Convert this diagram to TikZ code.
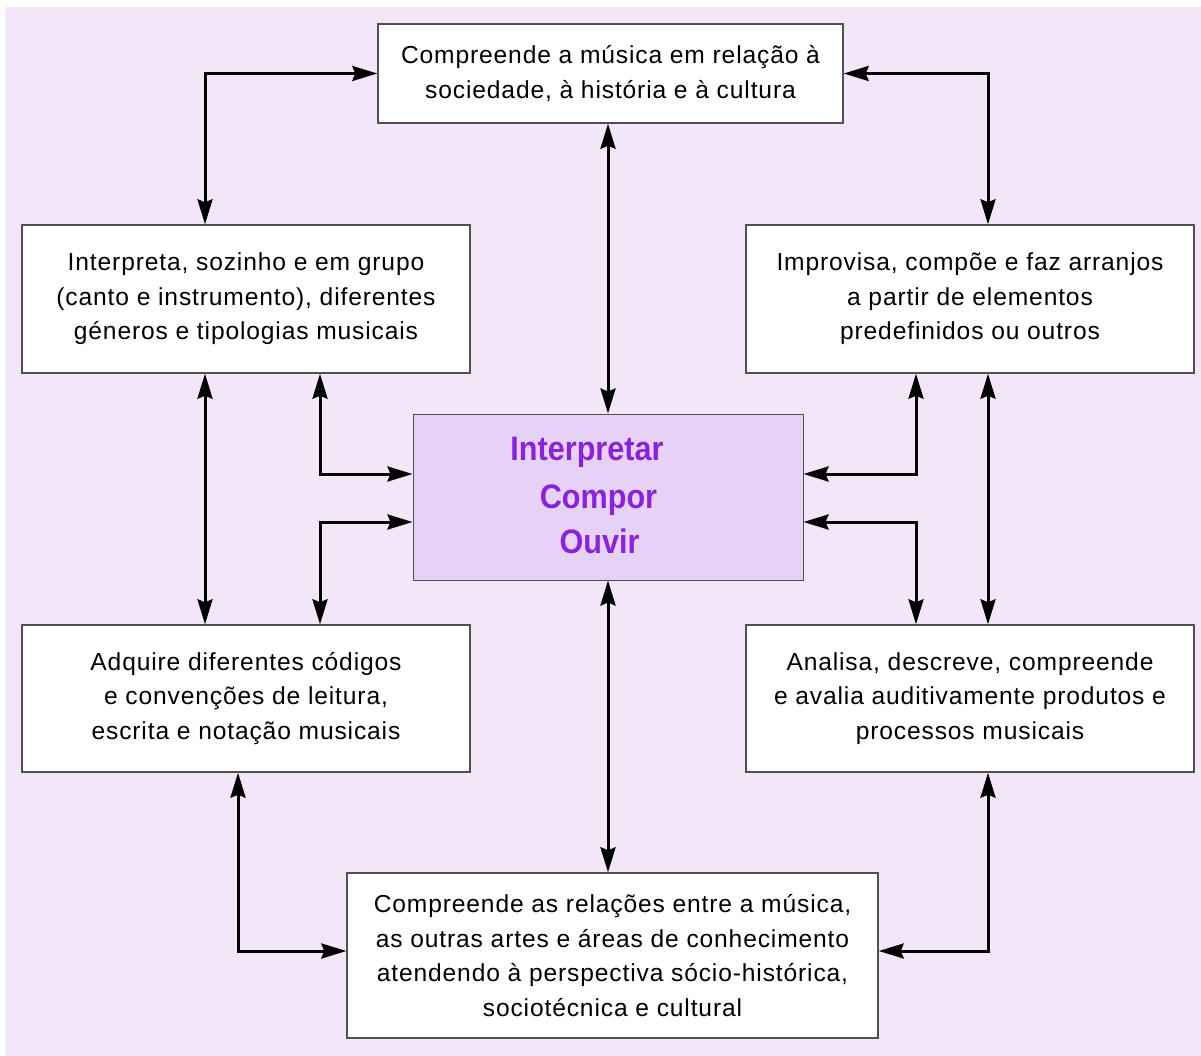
\documentclass[tikz,border=0pt]{standalone}
\usepackage{fontspec}
\setmainfont[LetterSpace=3.5]{Liberation Sans}
\newfontfamily\ctrfont[FakeStretch=0.9]{Liberation Sans}
\usetikzlibrary{arrows.meta}
\definecolor{bgc}{HTML}{F2E6F8}
\definecolor{ctrfill}{HTML}{E6D2F6}
\definecolor{ctrtext}{HTML}{8A22DD}
\definecolor{boxline}{HTML}{505050}
\tikzset{
  box/.style={draw=boxline, line width=1.4pt, fill=white, rectangle, inner sep=0pt,
    align=center, font=\fontsize{24.6}{34.5}\selectfont},
  dbl/.style={line width=3pt, {Stealth[length=25pt,width=15pt,inset=3pt]}-{Stealth[length=25pt,width=15pt,inset=3pt]}},
  ctrlabel/.style={anchor=base, text=ctrtext, font=\ctrfont\bfseries\fontsize{34}{40}\selectfont, inner sep=0pt}
}
\begin{document}
\begin{tikzpicture}[x=1pt,y=-1pt]
\useasboundingbox (0,0) rectangle (1201,1056);
\fill[bgc] (5,7) rectangle (1201,1056);

\node[box, minimum width=465pt, minimum height=99pt] (top) at (610.5,73.5)
  {Compreende a música em relação à\\sociedade, à história e à cultura};
\node[box, minimum width=448pt, minimum height=148pt] (lm) at (246,299)
  {Interpreta, sozinho e em grupo\\(canto e instrumento), diferentes\\géneros e tipologias musicais};
\node[box, minimum width=448pt, minimum height=148pt] (rm) at (970,299)
  {Improvisa, compõe e faz arranjos\\a partir de elementos\\predefinidos ou outros};
\node[draw=boxline, line width=1pt, fill=ctrfill, rectangle, inner sep=0pt,
  minimum width=390pt, minimum height=166pt] (cen) at (608,497) {};
\node[ctrlabel] (t1) at (587,460) {Interpretar};
\node[ctrlabel] (t2) at (598.5,508) {Compor};
\node[ctrlabel] (t3) at (599.5,553) {Ouvir};
\node[box, minimum width=448pt, minimum height=147pt] (ll) at (246,698.5)
  {Adquire diferentes códigos\\e convenções de leitura,\\escrita e notação musicais};
\node[box, minimum width=448pt, minimum height=147pt] (rl) at (970,698.5)
  {Analisa, descreve, compreende\\e avalia auditivamente produtos e\\processos musicais};
\node[box, minimum width=531pt, minimum height=165pt] (bot) at (612.5,955.5)
  {Compreende as relações entre a música,\\as outras artes e áreas de conhecimento\\atendendo à perspectiva sócio-histórica,\\sociotécnica e cultural};

\coordinate (xA) at (205,0);
\coordinate (xB) at (320,0);
\coordinate (xC) at (916,0);
\coordinate (xD) at (988,0);
\coordinate (xE) at (238,0);
\coordinate (yU) at (0,474);
\coordinate (yV) at (0,522);
\coordinate (yW) at (0,951);

\draw[dbl] (lm.north -| xA) |- (top.west);
\draw[dbl] (top.east) -| (rm.north -| xD);
\draw[dbl] (cen.north |- top.south) -- (cen.north);
\draw[dbl] (cen.south) -- (cen.south |- bot.north);
\draw[dbl] (lm.south -| xA) -- (ll.north -| xA);
\draw[dbl] (lm.south -| xB) |- (cen.west |- yU);
\draw[dbl] (cen.west |- yV) -| (ll.north -| xB);
\draw[dbl] (rm.south -| xC) |- (cen.east |- yU);
\draw[dbl] (cen.east |- yV) -| (rl.north -| xC);
\draw[dbl] (rm.south -| xD) -- (rl.north -| xD);
\draw[dbl] (ll.south -| xE) |- (bot.west |- yW);
\draw[dbl] (bot.east |- yW) -| (rl.south -| xD);
\end{tikzpicture}
\end{document}
